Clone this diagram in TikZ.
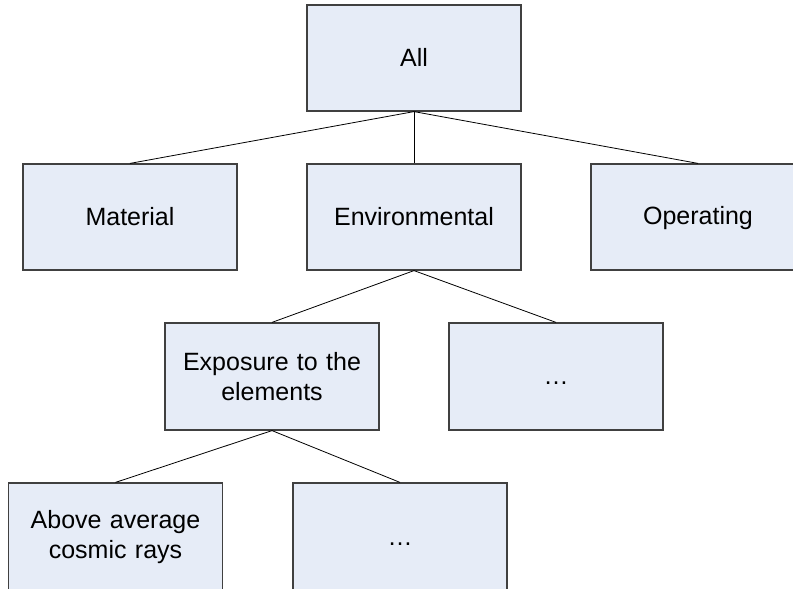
\documentclass[tikz,border=0pt]{standalone}
\usepackage{fontspec}
\setmainfont{Liberation Sans}
\definecolor{boxfill}{HTML}{E6ECF7}
\definecolor{boxline}{HTML}{404040}
\newcommand{\onestrut}{\rule[-4pt]{0pt}{24pt}}
\begin{document}
\begin{tikzpicture}[x=1pt,y=-1pt,
  box/.style={draw=boxline, line width=1.2pt, fill=boxfill, rectangle,
    minimum width=214pt, minimum height=106pt, inner sep=0pt,
    align=center, text width=200pt,
    font=\fontsize{25}{29.5}\selectfont},
  link/.style={draw=black, line width=0.8pt}]
\clip (0,0) rectangle (793,589);
\fill[white] (0,0) rectangle (793,589);
\node[box] (all) at (414,58) {\onestrut All};
\node[box] (mat) at (130,217) {\onestrut Material};
\node[box] (env) at (414,217) {\onestrut Environmental};
\node[box] (ope) at (698,217) {\onestrut Operating};
\node[box, minimum height=107pt] (exp) at (272,376.5) {Exposure to the\\elements};
\node[box, minimum height=107pt] (dot1) at (556,376.5) {\onestrut\dots};
\node[box, minimum height=108pt] (cos) at (115.5,537) {Above average\\cosmic rays};
\node[box, minimum height=108pt] (dot2) at (400,537) {\onestrut\dots};
\draw[link] (all.south) -- (mat.north);
\draw[link] (all.south) -- (env.north);
\draw[link] (all.south) -- (ope.north);
\draw[link] (env.south) -- (exp.north);
\draw[link] (env.south) -- (dot1.north);
\draw[link] (exp.south) -- (cos.north);
\draw[link] (exp.south) -- (dot2.north);
\end{tikzpicture}
\end{document}
